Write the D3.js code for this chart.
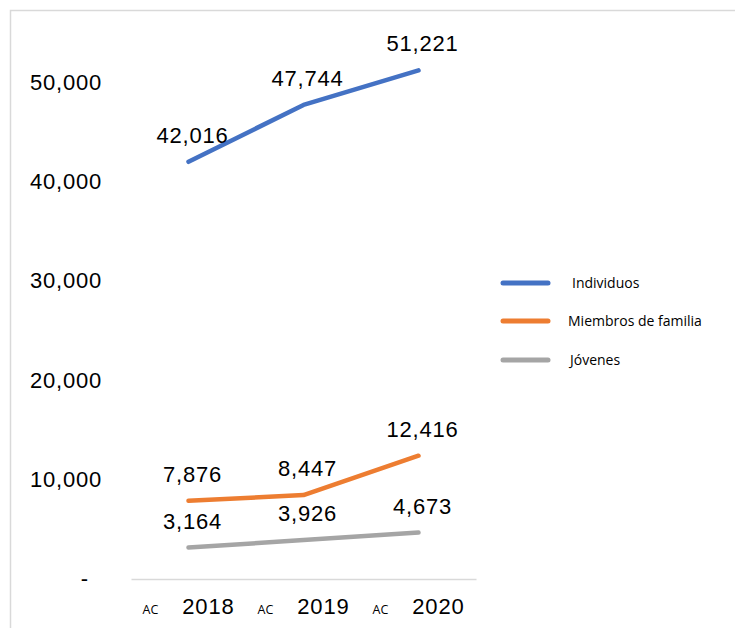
<!DOCTYPE html>
<html>
<head>
<meta charset="utf-8">
<script src="https://cdn.jsdelivr.net/npm/d3@7"></script>
<style>
  body { margin: 0; background: #fff; }
  text { font-family: "Liberation Sans", Arial, sans-serif; }
  .small { font-family: "Open Sans", sans-serif; }
</style>
</head>
<body>
<div id="chart"></div>
<script>
// data
var years = ["2018", "2019", "2020"];
var seriesNames = ["Individuos", "Miembros de familia", "Jóvenes"];
var individuos = [42016, 47744, 51221];
var miembros = [7876, 8447, 12416];
var jovenes = [3164, 3926, 4673];
var yTicks = [0, 10000, 20000, 30000, 40000, 50000];
var colors = ["#4472C4", "#ED7D31", "#A5A5A5"];

function init() {
    var w = 735;
    var h = 628;

    var series = [individuos, miembros, jovenes].map(function (vals, i) {
        return {
            name: seriesNames[i],
            color: colors[i],
            values: vals.map(function (v, j) { return { year: years[j], value: v }; })
        };
    });

    var xScale = d3.scaleBand()
        .domain(years)
        .range([131, 476]);

    var yScale = d3.scaleLinear()
        .domain([0, 50000])
        .range([579, 82.5]);

    var svg = d3.select("#chart")
        .append("svg")
        .attr("width", w)
        .attr("height", h);

    // outer frame (only top and left edges visible)
    svg.append("path")
        .attr("d", "M10.5," + h + "V10.5H" + w)
        .attr("fill", "none")
        .attr("stroke", "#d9d9d9")
        .attr("stroke-width", 1.5);

    // y axis
    var fmt = d3.format(",");
    var yAxis = d3.axisLeft(yScale)
        .tickValues(yTicks)
        .tickSize(0)
        .tickPadding(0)
        .tickFormat(function (d) { return d === 0 ? "-" : fmt(d); });

    var gy = svg.append("g")
        .attr("transform", "translate(102,0)")
        .call(yAxis);
    gy.select(".domain").remove();
    gy.selectAll("text")
        .attr("font-size", 22)
        .attr("letter-spacing", 0.8)
        .style("font-family", "Liberation Sans, Arial, sans-serif")
        .attr("fill", "#000")
        .attr("dy", "0.3em")
        .attr("dx", function (d) { return d === 0 ? -13 : 0; });

    // x axis
    var xAxis = d3.axisBottom(xScale)
        .tickSize(0)
        .tickFormat("");

    var gx = svg.append("g")
        .attr("transform", "translate(0," + yScale(0) + ")")
        .call(xAxis);
    gx.select(".domain")
        .attr("stroke", "#d9d9d9")
        .attr("stroke-width", 1.5);

    var tickText = gx.selectAll(".tick").append("text")
        .attr("y", 35)
        .attr("text-anchor", "middle")
        .attr("fill", "#000");
    tickText.append("tspan")
        .attr("class", "small")
        .attr("font-size", 12.5)
        .text("AC");
    tickText.append("tspan")
        .attr("dx", 24)
        .attr("font-size", 22)
        .attr("letter-spacing", 0.8)
        .text(function (d) { return d; });

    // lines
    var line = d3.line()
        .x(function (d) { return xScale(d.year) + xScale.bandwidth() / 2; })
        .y(function (d) { return yScale(d.value); });

    svg.selectAll(".line")
        .data(series)
        .enter()
        .append("path")
        .attr("class", "line")
        .attr("fill", "none")
        .attr("stroke", function (d) { return d.color; })
        .attr("stroke-width", 4.5)
        .attr("stroke-linecap", "round")
        .attr("stroke-linejoin", "round")
        .attr("d", function (d) { return line(d.values); });

    // data labels
    series.forEach(function (s) {
        svg.selectAll(null)
            .data(s.values)
            .enter()
            .append("text")
            .attr("x", function (d) { return xScale(d.year) + xScale.bandwidth() / 2 + 4; })
            .attr("y", function (d) { return yScale(d.value) - 19; })
            .attr("text-anchor", "middle")
            .attr("font-size", 22)
            .attr("letter-spacing", 0.8)
            .attr("fill", "#000")
            .text(function (d) { return fmt(d.value); });
    });

    // legend
    var legend = svg.selectAll(".legend")
        .data(series)
        .enter()
        .append("g")
        .attr("class", "legend")
        .attr("transform", function (d, i) { return "translate(503," + [283, 321, 360][i] + ")"; });

    legend.append("line")
        .attr("x1", 0)
        .attr("x2", 45)
        .attr("stroke", function (d) { return d.color; })
        .attr("stroke-width", 5)
        .attr("stroke-linecap", "round");

    legend.append("text")
        .attr("class", "small")
        .attr("x", function (d, i) { return [69, 65, 67][i]; })
        .attr("dy", "0.35em")
        .attr("font-size", 14)
        .attr("fill", "#000")
        .text(function (d) { return d.name; });
}

window.onload = init;
</script>
</body>
</html>
